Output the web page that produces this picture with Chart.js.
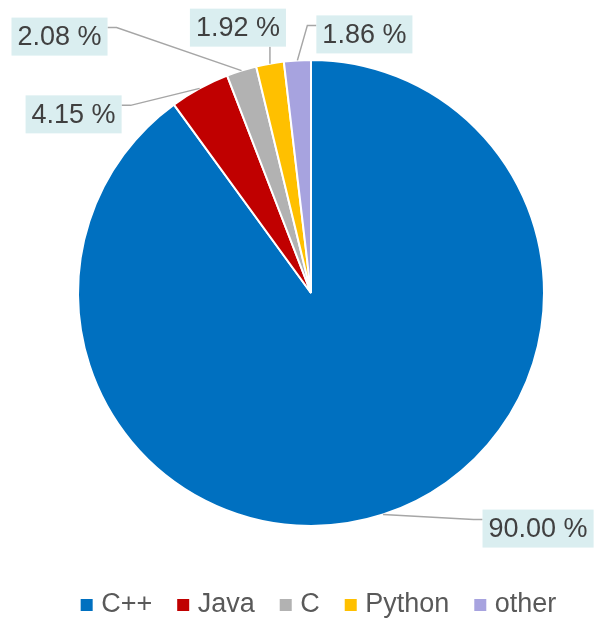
<!DOCTYPE html>
<html>
<head>
<meta charset="utf-8">
<script src="https://cdn.jsdelivr.net/npm/chart.js@4.4.1/dist/chart.umd.min.js"></script>
<style>
  html, body { margin: 0; padding: 0; background: #fff; }
</style>
</head>
<body>
<canvas id="pieChart" width="595" height="619"></canvas>
<script>
// data
var languages = ['C++', 'Java', 'C', 'Python', 'other'];
var shares = [90.00, 4.15, 2.08, 1.92, 1.86];
var sliceColors = ['#0070C0', '#C00000', '#B2B2B2', '#FFC000', '#A7A3DF'];

// where each value box sits, relative to the rim point it points at
var labelOffsets = [[155, 14], [-126, 26], [-182, -34], [-32, -36], [67, -26]];
var labelSides = ['left', 'right', 'right', 'bottom', 'left'];

var fontFamily = '"Liberation Sans", Arial, sans-serif';

// value boxes with leader lines
var valueBoxes = {
  id: 'valueBoxes',
  afterDatasetsDraw: function(chart) {
    var c = chart.ctx;
    var meta = chart.getDatasetMeta(0);
    c.save();
    c.font = '27px ' + fontFamily;
    meta.data.forEach(function(arc, i) {
      var p = arc.getProps(['x', 'y', 'startAngle', 'endAngle', 'outerRadius'], true);
      var mid = (p.startAngle + p.endAngle) / 2;
      var ax = p.x + Math.cos(mid) * p.outerRadius;
      var ay = p.y + Math.sin(mid) * p.outerRadius;
      var text = shares[i].toFixed(2) + ' %';
      var w = c.measureText(text).width + 12, h = 38;
      var cx = ax + labelOffsets[i][0], cy = ay + labelOffsets[i][1];
      var left = cx - w / 2, top = cy - h / 2;

      c.strokeStyle = '#A6A6A6';
      c.lineWidth = 1.5;
      c.beginPath();
      c.moveTo(ax, ay);
      if (labelSides[i] === 'bottom') {
        c.lineTo(ax, top + h);
      } else if (labelSides[i] === 'left') {
        c.lineTo(left - 9, top + 10);
        c.lineTo(left, top + 10);
      } else {
        c.lineTo(left + w + 9, top + 10);
        c.lineTo(left + w, top + 10);
      }
      c.stroke();

      c.fillStyle = '#DAEEF0';
      c.fillRect(left, top, w, h);
      c.fillStyle = '#404040';
      c.textAlign = 'center';
      c.textBaseline = 'middle';
      c.fillText(text, cx, cy + 1);
    });
    c.restore();
  }
};

// nudge the legend a bit to the right, like the original
var legendShift = 10;
var shiftLegend = {
  id: 'shiftLegend',
  afterLayout: function(chart) {
    if (chart.legend) {
      chart.legend.left += legendShift;
      chart.legend.right += legendShift;
    }
  }
};

var ctx = document.getElementById('pieChart').getContext('2d');
var pieChart = new Chart(ctx, {
  type: 'pie',
  data: {
    labels: languages,
    datasets: [{
      data: shares,
      backgroundColor: sliceColors,
      borderColor: '#ffffff',
      borderWidth: 2,
      radius: 233
    }]
  },
  options: {
    responsive: false,
    animation: false,
    layout: {
      padding: { top: 24.5, left: 27, right: 0, bottom: -9.5 }
    },
    plugins: {
      tooltip: { enabled: false },
      legend: {
        position: 'bottom',
        labels: {
          usePointStyle: true,
          pointStyle: 'rect',
          boxWidth: 2,
          boxHeight: 14,
          padding: 30,
          color: '#595959',
          font: { size: 27, family: fontFamily }
        }
      }
    }
  },
  plugins: [valueBoxes, shiftLegend]
});
</script>
</body>
</html>
